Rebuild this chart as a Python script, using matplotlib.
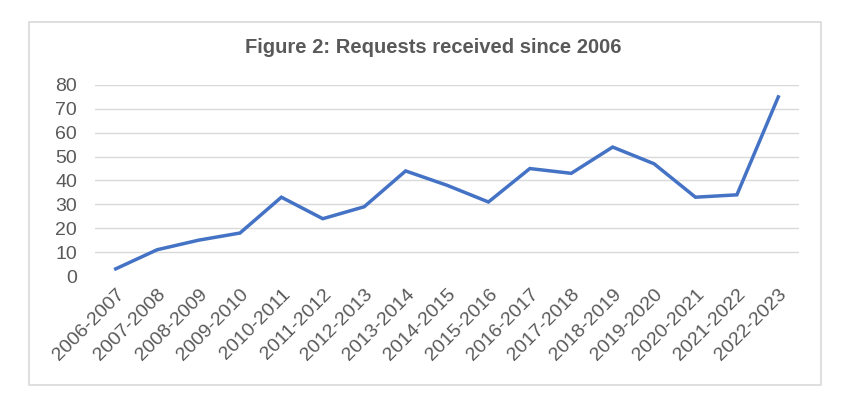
import matplotlib.pyplot as plt
from matplotlib.patches import Rectangle

plt.rcParams['font.family'] = ['Liberation Sans', 'DejaVu Sans']

periods = ['2006-2007', '2007-2008', '2008-2009', '2009-2010', '2010-2011',
           '2011-2012', '2012-2013', '2013-2014', '2014-2015', '2015-2016',
           '2016-2017', '2017-2018', '2018-2019', '2019-2020', '2020-2021',
           '2021-2022', '2022-2023']
requests = [3, 11, 15, 18, 33, 24, 29, 44, 38, 31, 45, 43, 54, 47, 33, 34, 75]

grey = '#595959'

fig = plt.figure(figsize=(8.53, 3.98), dpi=100)
ax = fig.add_axes([0.1114, 0.3065, 0.8253, 0.48])

x = range(len(periods))
ax.plot(x, requests, color='#4472C4', lw=2.5, solid_joinstyle='miter')

ax.set_xlim(-0.5, len(periods) - 0.5)
ax.set_ylim(0, 80)
ax.set_yticks(range(0, 81, 10))
ax.set_xticks(list(x))
ax.set_xticklabels(periods, rotation=45, ha='right', rotation_mode='anchor')
ax.tick_params(axis='both', length=0, labelsize=14, colors=grey)
ax.tick_params(axis='y', pad=13)
ax.tick_params(axis='x', pad=7)
ax.grid(axis='y', color='#D9D9D9', lw=1)
ax.get_ygridlines()[0].set_visible(False)
ax.set_axisbelow(True)
for s in ax.spines.values():
    s.set_visible(False)

fig.text(0.508, 0.88, 'Figure 2: Requests received since 2006', ha='center',
         va='center', fontsize=14.5, fontweight='bold', color=grey)

fig.patches.append(Rectangle((0.034, 0.0327), 0.9285, 0.912, transform=fig.transFigure,
                             fill=False, edgecolor='#D9D9D9', lw=1.2))

fig.savefig('out.png', dpi=100)
